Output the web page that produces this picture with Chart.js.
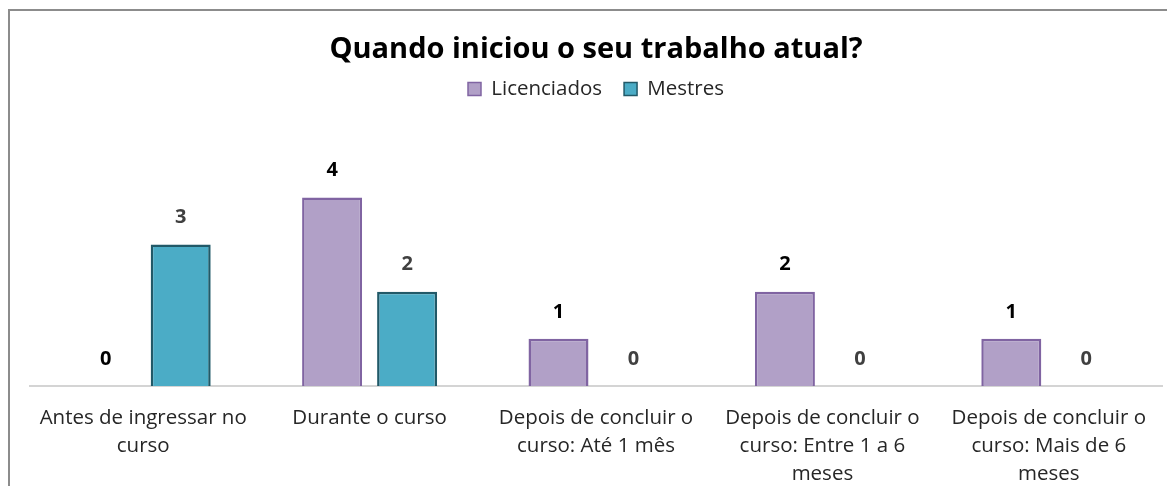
<!DOCTYPE html>
<html>
<head>
<meta charset="utf-8">
<script src="https://cdn.jsdelivr.net/npm/chart.js@4/dist/chart.umd.min.js"></script>
<style>
  html, body { margin: 0; padding: 0; background: #fff; overflow: hidden; }
  #frame {
    position: absolute; left: 8px; top: 9px; width: 1200px; height: 520px;
    border-left: 2px solid #8c8c8c; border-top: 2px solid #8c8c8c;
  }
  canvas { position: absolute; left: 0; top: 0; }
</style>
</head>
<body>
<div id="frame"></div>
<canvas id="chart" width="1167" height="486"></canvas>
<script>
// ---- data ----
const categories = [
    ['Antes de ingressar no', 'curso'],
    ['Durante o curso'],
    ['Depois de concluir o', 'curso: Até 1 mês'],
    ['Depois de concluir o', 'curso: Entre 1 a 6', 'meses'],
    ['Depois de concluir o', 'curso: Mais de 6', 'meses']
];
const licenciados = [0, 4, 1, 2, 1];
const mestres = [3, 2, 0, 0, 0];

const FONT = '"Open Sans", Lato, sans-serif';

// value labels above bars
const valueLabels = {
    id: 'valueLabels',
    afterDatasetsDraw(chart) {
        const ctx = chart.ctx;
        ctx.save();
        ctx.font = 'bold 20px ' + FONT;
        ctx.textAlign = 'center';
        ctx.textBaseline = 'middle';
        chart.data.datasets.forEach((ds, i) => {
            const meta = chart.getDatasetMeta(i);
            ctx.fillStyle = ds.labelColor;
            meta.data.forEach((bar, j) => {
                ctx.fillText(String(ds.data[j]), bar.x, bar.y - 27);
            });
        });
        ctx.restore();
    }
};

// extra room below the legend
const legendGap = {
    id: 'legendGap',
    beforeInit(chart) {
        const fit = chart.legend.fit;
        chart.legend.fit = function () {
            fit.bind(chart.legend)();
            this.height += 41;
        };
    }
};

new Chart(document.getElementById('chart'), {
    type: 'bar',
    data: {
        labels: categories,
        datasets: [
            {
                label: 'Licenciados',
                data: licenciados,
                backgroundColor: '#b1a0c7',
                borderColor: '#8064a2',
                borderWidth: c => (c.raw === 0 ? 0 : 2.5),
                labelColor: '#000000'
            },
            {
                label: 'Mestres',
                data: mestres,
                backgroundColor: '#4bacc6',
                borderColor: '#215968',
                borderWidth: c => (c.raw === 0 ? 0 : 2.5),
                labelColor: '#404040'
            }
        ]
    },
    options: {
        responsive: false,
        animation: false,
        devicePixelRatio: 1,
        categoryPercentage: 0.6625,
        barPercentage: 0.8,
        layout: { padding: { left: 30, right: 5, top: 0, bottom: 0 } },
        scales: {
            x: {
                grid: { display: false, drawTicks: false },
                border: { color: '#d4d4d4', width: 2 },
                ticks: {
                    color: '#262626',
                    padding: 18,
                    maxRotation: 0,
                    autoSkip: false,
                    font: { family: FONT, size: 20.5, lineHeight: 1.36 }
                },
                afterFit(scale) { scale.height = 100; }
            },
            y: {
                display: false,
                min: 0,
                max: 5
            }
        },
        plugins: {
            title: {
                display: true,
                text: 'Quando iniciou o seu trabalho atual?',
                color: '#000000',
                font: { family: FONT, size: 29, weight: 'bold', lineHeight: 1.2 },
                padding: { top: 32, bottom: -10 }
            },
            legend: {
                display: true,
                labels: {
                    color: '#262626',
                    boxWidth: 13,
                    boxHeight: 13,
                    padding: 22,
                    font: { family: FONT, size: 20.5 },
                    generateLabels(chart) {
                        return chart.data.datasets.map((ds, i) => ({
                            text: ds.label,
                            fillStyle: ds.backgroundColor,
                            strokeStyle: ds.borderColor,
                            lineWidth: 1.5,
                            fontColor: '#262626',
                            hidden: false,
                            datasetIndex: i
                        }));
                    }
                }
            },
            tooltip: { enabled: false }
        }
    },
    plugins: [valueLabels, legendGap]
});
</script>
</body>
</html>
